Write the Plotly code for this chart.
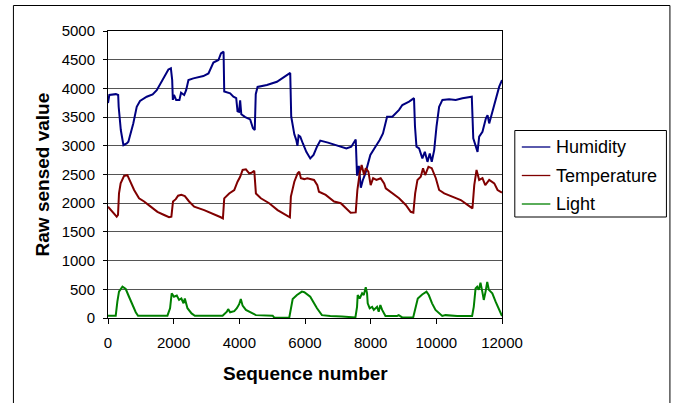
import plotly.graph_objects as go

# Humidity readings: (sequence number, raw value)
hum_seq = [0, 40, 240, 310, 325, 390, 470, 570, 620, 690, 770, 875, 975, 1180, 1360,
           1485, 1685, 1840, 1915, 1955, 1975, 2010, 2075, 2175, 2225, 2320, 2380, 2450,
           2600, 2905, 3060, 3210, 3365, 3440, 3520, 3540, 3720, 3820, 3905, 3945, 3990,
           4025, 4060, 4180, 4330, 4415, 4470, 4500, 4555, 4840, 5145, 5400, 5550, 5580,
           5675, 5735, 5770, 5805, 5855, 5935, 6040, 6160, 6260, 6365, 6465, 6700, 6955,
           7260, 7410, 7545, 7585, 7640, 7700, 7760, 7840, 7990, 8145, 8275, 8375, 8500,
           8660, 8865, 8965, 9170, 9320, 9350, 9395, 9475, 9575, 9650, 9730, 9800, 9860,
           9935, 10005, 10085, 10185, 10390, 10590, 10795, 11080, 11125, 11205, 11255,
           11305, 11405, 11510, 11560, 11610, 11710, 11815, 11915, 12000]
hum_val = [3745, 3885, 3900, 3885, 3680, 3275, 3010, 3040, 3070, 3215, 3390, 3680, 3780,
           3855, 3895, 3970, 4175, 4330, 4350, 4145, 3800, 3885, 3800, 3800, 3925, 3885,
           3970, 4145, 4175, 4215, 4260, 4450, 4495, 4610, 4640, 3945, 3915, 3855, 3830,
           3600, 3590, 3790, 3550, 3500, 3460, 3305, 3275, 3900, 4025, 4060, 4115, 4205,
           4270, 3510, 3200, 3100, 3000, 3180, 3160, 3040, 2895, 2780, 2840, 2985, 3090,
           3055, 3015, 2955, 2985, 3110, 2480, 2650, 2270, 2400, 2520, 2840, 2985, 3100,
           3215, 3505, 3505, 3625, 3710, 3770, 3830, 3335, 2985, 2955, 2780, 2895, 2720,
           2865, 2720, 2925, 3335, 3680, 3800, 3810, 3800, 3830, 3855, 3130, 2985, 2895,
           3160, 3245, 3480, 3535, 3390, 3595, 3830, 4030, 4145]

# Temperature readings
temp_seq = [0, 130, 265, 305, 335, 385, 490, 590, 670, 795, 945, 1100, 1300, 1505, 1710,
            1860, 1930, 1980, 2065, 2135, 2235, 2340, 2470, 2625, 2930, 3235, 3435, 3500,
            3540, 3690, 3845, 3945, 4025, 4100, 4200, 4300, 4370, 4455, 4505, 4655, 4910,
            5165, 5420, 5540, 5570, 5675, 5775, 5825, 5875, 5980, 6070, 6275, 6375, 6425,
            6630, 6885, 7090, 7240, 7390, 7545, 7595, 7665, 7725, 7800, 7850, 7930, 8000,
            8075, 8175, 8305, 8410, 8460, 8660, 8865, 9070, 9220, 9300, 9355, 9425, 9525,
            9595, 9660, 9760, 9860, 9985, 10085, 10240, 10490, 10745, 10950, 11100, 11155,
            11225, 11305, 11405, 11490, 11610, 11765, 11865, 12000]
temp_val = [1940, 1850, 1765, 1795, 2170, 2345, 2475, 2490, 2375, 2230, 2085, 2030, 1940,
            1850, 1795, 1755, 1765, 2030, 2070, 2130, 2145, 2125, 2030, 1940, 1880, 1810,
            1755, 1735, 2085, 2170, 2230, 2375, 2460, 2580, 2590, 2520, 2530, 2565, 2170,
            2085, 2000, 1880, 1795, 1755, 2115, 2375, 2520, 2550, 2435, 2420, 2435, 2405,
            2315, 2200, 2145, 2030, 2000, 1910, 1835, 1840, 2230, 2520, 2665, 2490, 2610,
            2550, 2315, 2435, 2405, 2435, 2345, 2260, 2170, 2085, 1970, 1850, 1835, 2170,
            2405, 2460, 2610, 2490, 2635, 2610, 2435, 2230, 2170, 2115, 2055, 1970, 1910,
            2315, 2580, 2405, 2435, 2315, 2405, 2345, 2230, 2185]

# Light readings
light_seq = [0, 235, 285, 335, 440, 540, 640, 740, 845, 915, 1810, 1890, 1940, 2010, 2095,
             2165, 2235, 2300, 2340, 2420, 2545, 2645, 3490, 3620, 3660, 3720, 3845, 3925,
             3995, 4045, 4100, 4200, 4350, 4505, 5015, 5065, 5520, 5570, 5625, 5755, 5875,
             5905, 5980, 6160, 6365, 6515, 6770, 7075, 7125, 7535, 7585, 7605, 7665, 7740,
             7790, 7850, 7890, 7910, 7970, 8045, 8095, 8195, 8245, 8295, 8350, 8450, 8805,
             8855, 8960, 9295, 9365, 9435, 9570, 9700, 9770, 9870, 9975, 10075, 10180,
             10280, 10635, 11090, 11140, 11195, 11245, 11295, 11345, 11400, 11445, 11500,
             11550, 11600, 11705, 11805, 11905, 12000]
light_val = [40, 40, 285, 460, 545, 505, 370, 225, 100, 40, 40, 170, 430, 370, 390, 315,
             340, 255, 340, 170, 80, 40, 40, 110, 155, 100, 120, 170, 240, 330, 215, 140,
             100, 50, 40, 5, 5, 170, 330, 400, 460, 460, 450, 370, 170, 50, 35, 35, 25, 10,
             195, 400, 340, 430, 400, 535, 430, 255, 170, 195, 140, 195, 110, 225, 140, 35,
             35, 50, 10, 10, 170, 340, 410, 460, 400, 255, 140, 95, 35, 50, 35, 35, 195,
             515, 545, 490, 615, 460, 315, 460, 630, 490, 430, 285, 140, 35]

series = [
    ("Humidity", hum_seq, hum_val, "#000080"),
    ("Temperature", temp_seq, temp_val, "#800000"),
    ("Light", light_seq, light_val, "#008000"),
]

FONT = "Liberation Sans, Arial, sans-serif"

W, H = 675, 403
L, R, T, B = 108, 501.7, 31, 318
pw, ph = R - L, B - T

def px_x(p):
    return (p - L) / pw

def px_y(p):
    return (B - p) / ph

fig = go.Figure()
for name, xs, ys, color in series:
    fig.add_trace(go.Scatter(x=xs, y=ys, mode="lines", name=name,
                             line=dict(color=color, width=2), showlegend=False))

# Legend box beside the plot: framed key with a short line sample per series
shapes = [
    dict(type="rect", xref="paper", yref="paper",
         x0=px_x(13.5), x1=px_x(669.5), y0=px_y(415), y1=px_y(5.5),
         line=dict(color="black", width=1), fillcolor="rgba(0,0,0,0)",
         layer="below"),
    dict(type="rect", xref="paper", yref="paper",
         x0=px_x(514.5), x1=px_x(666), y0=px_y(217), y1=px_y(130.5),
         line=dict(color="black", width=1), fillcolor="white"),
]
annotations = [
    dict(text="<b>Sequence number</b>", xref="paper", yref="paper",
         x=0.5, y=px_y(373), xanchor="center", yanchor="middle",
         showarrow=False, font=dict(size=19, family=FONT)),
    dict(text="<b>Raw sensed value</b>", xref="paper", yref="paper",
         x=px_x(43), y=0.5, xanchor="center", yanchor="middle",
         textangle=-90, showarrow=False, font=dict(size=19, family=FONT)),
]
key_rows = [147, 175.5, 204]
for (name, _, _, color), row in zip(series, key_rows):
    shapes.append(dict(type="line", xref="paper", yref="paper",
                       x0=px_x(521.5), x1=px_x(550), y0=px_y(row), y1=px_y(row),
                       line=dict(color=color, width=1.3)))
    annotations.append(dict(text=name, xref="paper", yref="paper",
                            x=px_x(554), y=px_y(row), xanchor="left",
                            yanchor="middle", showarrow=False,
                            font=dict(size=18, family=FONT, color="black")))

fig.update_layout(
    width=W, height=H,
    margin=dict(l=L, r=W - R, t=T, b=H - B, pad=0),
    paper_bgcolor="white", plot_bgcolor="white",
    font=dict(family=FONT, color="black", size=15),
    showlegend=False,
    xaxis=dict(range=[0, 12000], tickmode="linear", tick0=0, dtick=2000,
               tickformat="d",
               showgrid=False, zeroline=False, showline=True, linecolor="black",
               linewidth=1, mirror=True, ticks="outside", ticklen=5,
               tickcolor="black", tickfont=dict(size=15, family=FONT),
               ticklabelstandoff=6),
    yaxis=dict(range=[0, 5000], tickmode="linear", tick0=0, dtick=500,
               tickformat="d",
               showgrid=True, gridcolor="#555555", gridwidth=1, zeroline=False,
               showline=True, linecolor="black", linewidth=1, mirror=True,
               ticks="outside", ticklen=4, tickcolor="black",
               tickfont=dict(size=15, family=FONT), ticklabelstandoff=5),
    annotations=annotations,
    shapes=shapes,
)

fig.write_html("out.html")
